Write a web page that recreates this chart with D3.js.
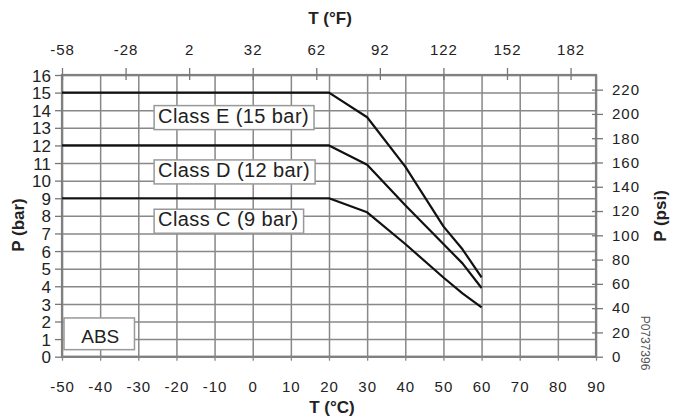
<!DOCTYPE html>
<html>
<head>
<meta charset="utf-8">
<script src="https://cdn.jsdelivr.net/npm/d3@7"></script>
<style>
  body { margin: 0; background: #fff; }
  svg { display: block; font-family: "Liberation Sans", Arial, sans-serif; }
</style>
</head>
<body>
<div id="container"></div>
<script>
// chart values
let tempC  = [-50, 20, 30, 40, 50, 55, 60];
let classE = [15, 15, 13.6, 10.8, 7.4, 6.1, 4.5];
let classD = [12, 12, 10.9, 8.6, 6.4, 5.3, 3.9];
let classC = [9, 9, 8.2, 6.4, 4.5, 3.6, 2.8];
let seriesNames = ["Class E (15 bar)", "Class D (12 bar)", "Class C (9 bar)"];

// tick labels
let cTicks   = [-50, -40, -30, -20, -10, 0, 10, 20, 30, 40, 50, 60, 70, 80, 90];
let fTicks   = [-58, -28, 2, 32, 62, 92, 122, 152, 182];
let barTicks = [0, 1, 2, 3, 4, 5, 6, 7, 8, 9, 10, 11, 12, 13, 14, 15, 16];
let psiTicks = [0, 20, 40, 60, 80, 100, 120, 140, 160, 180, 200, 220];

// note: "top" is taken by window.top, so plot edges get a prefix
let w = 673;
let h = 418;
let pLeft = 62, pRight = 596, pTop = 75, pBottom = 356.7;
let psiPerBar = 14.5038;

// plain hyphen for negatives (d3 uses the unicode minus by default)
function plain(d){ return String(d); }

let viz = d3.select("#container")
  .append("svg")
    .attr("width", w)
    .attr("height", h)
;

let xScale = d3.scaleLinear().domain([-50, 90]).range([pLeft, pRight]);
let fScale = d3.scaleLinear().domain([-58, 90 * 1.8 + 32]).range([pLeft, pRight]);
let yScale = d3.scaleLinear().domain([0, 16]).range([pBottom, pTop]);
let psiScale = d3.scaleLinear().domain([0, 16 * psiPerBar]).range([pBottom, pTop]);

let gridColor = "#888";

// grid: vertical lines every 10 C
let vGrid = viz.append("g").classed("vGrid", true)
  .attr("transform", "translate(0," + pBottom + ")")
  .call(d3.axisBottom(xScale).tickValues(cTicks).tickSize(-(pBottom - pTop)).tickFormat(""));
vGrid.select(".domain").remove();
vGrid.selectAll("line").attr("stroke", gridColor).attr("stroke-width", 1.5);

// grid: horizontal lines every bar
let hGrid = viz.append("g").classed("hGrid", true)
  .attr("transform", "translate(" + pLeft + ",0)")
  .call(d3.axisLeft(yScale).tickValues(barTicks).tickSize(-(pRight - pLeft)).tickFormat(""));
hGrid.select(".domain").remove();
hGrid.selectAll("line").attr("stroke", gridColor).attr("stroke-width", 1.5);

// frame
viz.append("rect")
  .attr("x", pLeft).attr("y", pTop)
  .attr("width", pRight - pLeft).attr("height", pBottom - pTop)
  .attr("fill", "none").attr("stroke", "#808080").attr("stroke-width", 2.2);

// left axis (bar)
let yAxisGroup = viz.append("g").classed("yAxis", true)
  .attr("transform", "translate(" + pLeft + ",0)")
  .call(d3.axisLeft(yScale).tickValues(barTicks).tickSize(7).tickPadding(4).tickFormat(plain));
yAxisGroup.select(".domain").remove();
yAxisGroup.selectAll("line").attr("stroke", "#777").attr("stroke-width", 1.3);
yAxisGroup.selectAll("text").attr("font-size", 17).attr("fill", "#222").attr("dy", "0.36em");

// right axis (psi)
let psiAxisGroup = viz.append("g").classed("psiAxis", true)
  .attr("transform", "translate(" + pRight + ",0)")
  .call(d3.axisRight(psiScale).tickValues(psiTicks).tickSize(7).tickPadding(9).tickFormat(plain));
psiAxisGroup.select(".domain").remove();
psiAxisGroup.selectAll("line").attr("stroke", "#777").attr("stroke-width", 1.3).attr("x1", -4);
psiAxisGroup.selectAll("text").attr("font-size", 15).attr("letter-spacing", 1).attr("fill", "#222");

// bottom axis (C)
let xAxisGroup = viz.append("g").classed("xAxis", true)
  .attr("transform", "translate(0," + pBottom + ")")
  .call(d3.axisBottom(xScale).tickValues(cTicks).tickSize(4).tickPadding(21).tickFormat(plain));
xAxisGroup.select(".domain").remove();
xAxisGroup.selectAll("line").attr("stroke", "#888").attr("stroke-width", 1.3);
xAxisGroup.selectAll("text").attr("font-size", 15).attr("letter-spacing", 1).attr("fill", "#222");

// top axis (F)
let fAxisGroup = viz.append("g").classed("fAxis", true)
  .attr("transform", "translate(0," + pTop + ")")
  .call(d3.axisTop(fScale).tickValues(fTicks).tickSize(7).tickPadding(13).tickFormat(plain));
fAxisGroup.select(".domain").remove();
fAxisGroup.selectAll("line").attr("stroke", "#777").attr("stroke-width", 1.3).attr("y1", 5);
fAxisGroup.selectAll("text").attr("font-size", 15).attr("letter-spacing", 1).attr("fill", "#222");

// axis titles
viz.append("text").text("T (°C)")
  .attr("x", 332).attr("y", 413)
  .attr("text-anchor", "middle").attr("font-size", 17).attr("font-weight", "bold").attr("fill", "#222");
viz.append("text").text("T (°F)")
  .attr("x", 330).attr("y", 24)
  .attr("text-anchor", "middle").attr("font-size", 17).attr("font-weight", "bold").attr("fill", "#222");
viz.append("text").text("P (bar)")
  .attr("transform", "translate(24,225) rotate(-90)")
  .attr("text-anchor", "middle").attr("font-size", 17).attr("font-weight", "bold").attr("fill", "#222");
viz.append("text").text("P (psi)")
  .attr("transform", "translate(666,216) rotate(-90)")
  .attr("text-anchor", "middle").attr("font-size", 17).attr("font-weight", "bold").attr("fill", "#222");
viz.append("text").text("P0737396")
  .attr("transform", "translate(641,343) rotate(90)")
  .attr("text-anchor", "middle").attr("font-size", 12).attr("fill", "#555");

// curves
let line = d3.line()
  .x(function(d){ return xScale(d[0]); })
  .y(function(d){ return yScale(d[1]); });

let allSeries = [classE, classD, classC];
let graphGroup = viz.append("g").classed("graphGroup", true);
graphGroup.selectAll(".curve")
  .data(allSeries)
  .enter()
  .append("path")
    .classed("curve", true)
    .attr("d", function(s){ return line(tempC.map(function(t, i){ return [t, s[i]]; })); })
    .attr("fill", "none")
    .attr("stroke", "#111")
    .attr("stroke-width", 2.2)
    .attr("stroke-linejoin", "round")
;

// class labels in white boxes, below each flat line
let labelOffsets = [30, 31.5, 28];
allSeries.forEach(function(s, i){
  let g = viz.append("g");
  let rect = g.append("rect");
  let t = g.append("text").text(seriesNames[i])
    .attr("x", xScale(-24.8))
    .attr("y", yScale(s[0]) + labelOffsets[i])
    .attr("font-size", 20)
    .attr("letter-spacing", 0.4)
    .attr("fill", "#222");
  let bb = t.node().getBBox();
  rect.attr("x", bb.x - 4).attr("y", bb.y + 1)
    .attr("width", bb.width + 9).attr("height", bb.height + 2)
    .attr("fill", "#fff").attr("stroke", "#999").attr("stroke-width", 1.5);
});

// ABS box
let absG = viz.append("g");
absG.append("rect")
  .attr("x", xScale(-50) + 2).attr("y", yScale(2.2))
  .attr("width", xScale(-31) - xScale(-50) - 2).attr("height", yScale(0.4) - yScale(2.2))
  .attr("fill", "#fff").attr("stroke", "#999").attr("stroke-width", 1.5);
absG.append("text").text("ABS")
  .attr("x", (xScale(-50) + xScale(-31)) / 2 + 2).attr("y", yScale(0.76))
  .attr("text-anchor", "middle").attr("font-size", 19).attr("fill", "#222");
</script>
</body>
</html>
